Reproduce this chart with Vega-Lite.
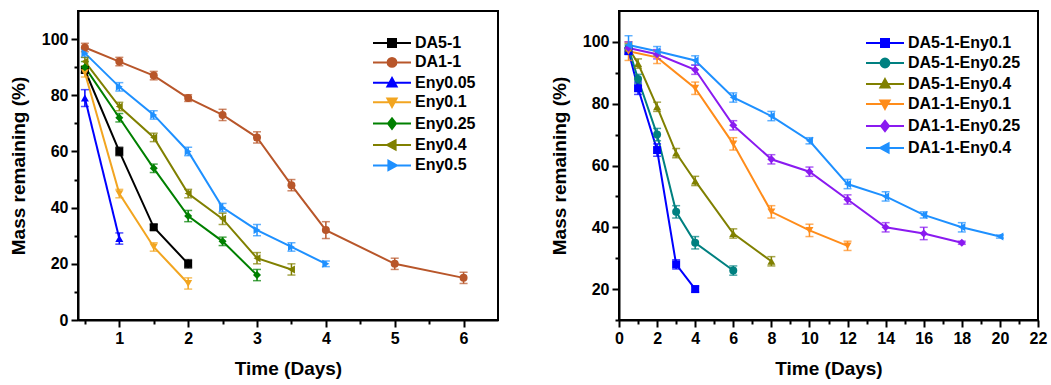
{
  "$schema": "https://vega.github.io/schema/vega-lite/v6.json",
  "padding": {"left": 8, "top": 10, "right": 5, "bottom": 5},
  "background": "white",
  "spacing": 50,
  "resolve": {"scale": {"color": "independent", "shape": "independent"}},
  "datasets": {
    "left": [
      {"s": "DA5-1", "x": 0.5, "y": 89, "e": 1},
      {"s": "DA5-1", "x": 1, "y": 60, "e": 1.5},
      {"s": "DA5-1", "x": 1.5, "y": 33, "e": 1},
      {"s": "DA5-1", "x": 2, "y": 20, "e": 1.5},
      {"s": "DA1-1", "x": 0.5, "y": 97, "e": 1.5},
      {"s": "DA1-1", "x": 1, "y": 92, "e": 1.5},
      {"s": "DA1-1", "x": 1.5, "y": 87, "e": 1.5},
      {"s": "DA1-1", "x": 2, "y": 79, "e": 1.2},
      {"s": "DA1-1", "x": 2.5, "y": 73, "e": 2},
      {"s": "DA1-1", "x": 3, "y": 65, "e": 2},
      {"s": "DA1-1", "x": 3.5, "y": 48, "e": 2},
      {"s": "DA1-1", "x": 4, "y": 32, "e": 3},
      {"s": "DA1-1", "x": 5, "y": 20, "e": 2},
      {"s": "DA1-1", "x": 6, "y": 15, "e": 2},
      {"s": "Eny0.05", "x": 0.5, "y": 79, "e": 3},
      {"s": "Eny0.05", "x": 1, "y": 29, "e": 2},
      {"s": "Eny0.1", "x": 0.5, "y": 88, "e": 1.5},
      {"s": "Eny0.1", "x": 1, "y": 45, "e": 1.5},
      {"s": "Eny0.1", "x": 1.5, "y": 26, "e": 1.5},
      {"s": "Eny0.1", "x": 2, "y": 13, "e": 2},
      {"s": "Eny0.25", "x": 0.5, "y": 90, "e": 2},
      {"s": "Eny0.25", "x": 1, "y": 72, "e": 1.5},
      {"s": "Eny0.25", "x": 1.5, "y": 54, "e": 1.5},
      {"s": "Eny0.25", "x": 2, "y": 37, "e": 2},
      {"s": "Eny0.25", "x": 2.5, "y": 28, "e": 1.5},
      {"s": "Eny0.25", "x": 3, "y": 16, "e": 2},
      {"s": "Eny0.4", "x": 0.5, "y": 92, "e": 1.5},
      {"s": "Eny0.4", "x": 1, "y": 76, "e": 1.5},
      {"s": "Eny0.4", "x": 1.5, "y": 65, "e": 1.5},
      {"s": "Eny0.4", "x": 2, "y": 45, "e": 1.5},
      {"s": "Eny0.4", "x": 2.5, "y": 36, "e": 2},
      {"s": "Eny0.4", "x": 3, "y": 22, "e": 2},
      {"s": "Eny0.4", "x": 3.5, "y": 18, "e": 2},
      {"s": "Eny0.5", "x": 0.5, "y": 95, "e": 1.5},
      {"s": "Eny0.5", "x": 1, "y": 83, "e": 1.5},
      {"s": "Eny0.5", "x": 1.5, "y": 73, "e": 1.5},
      {"s": "Eny0.5", "x": 2, "y": 60, "e": 1.5},
      {"s": "Eny0.5", "x": 2.5, "y": 40, "e": 1.5},
      {"s": "Eny0.5", "x": 3, "y": 32, "e": 2},
      {"s": "Eny0.5", "x": 3.5, "y": 26, "e": 1.5},
      {"s": "Eny0.5", "x": 4, "y": 20, "e": 1}
    ],
    "right": [
      {"s": "DA5-1-Eny0.1", "x": 0.5, "y": 97, "e": 1},
      {"s": "DA5-1-Eny0.1", "x": 1, "y": 85, "e": 2},
      {"s": "DA5-1-Eny0.1", "x": 2, "y": 65, "e": 2},
      {"s": "DA5-1-Eny0.1", "x": 3, "y": 28, "e": 1.5},
      {"s": "DA5-1-Eny0.1", "x": 4, "y": 20, "e": 1},
      {"s": "DA5-1-Eny0.25", "x": 0.5, "y": 98, "e": 1},
      {"s": "DA5-1-Eny0.25", "x": 1, "y": 88, "e": 1.5},
      {"s": "DA5-1-Eny0.25", "x": 2, "y": 70, "e": 2},
      {"s": "DA5-1-Eny0.25", "x": 3, "y": 45, "e": 2},
      {"s": "DA5-1-Eny0.25", "x": 4, "y": 35, "e": 2},
      {"s": "DA5-1-Eny0.25", "x": 6, "y": 26, "e": 1.5},
      {"s": "DA5-1-Eny0.4", "x": 0.5, "y": 98, "e": 1.5},
      {"s": "DA5-1-Eny0.4", "x": 1, "y": 93, "e": 1.5},
      {"s": "DA5-1-Eny0.4", "x": 2, "y": 79, "e": 1.5},
      {"s": "DA5-1-Eny0.4", "x": 3, "y": 64, "e": 1.5},
      {"s": "DA5-1-Eny0.4", "x": 4, "y": 55, "e": 1.5},
      {"s": "DA5-1-Eny0.4", "x": 6, "y": 38, "e": 1.5},
      {"s": "DA5-1-Eny0.4", "x": 8, "y": 29, "e": 1.5},
      {"s": "DA1-1-Eny0.1", "x": 0.5, "y": 97, "e": 3},
      {"s": "DA1-1-Eny0.1", "x": 2, "y": 95, "e": 2},
      {"s": "DA1-1-Eny0.1", "x": 4, "y": 85, "e": 2},
      {"s": "DA1-1-Eny0.1", "x": 6, "y": 67, "e": 2},
      {"s": "DA1-1-Eny0.1", "x": 8, "y": 45, "e": 2},
      {"s": "DA1-1-Eny0.1", "x": 10, "y": 39, "e": 2},
      {"s": "DA1-1-Eny0.1", "x": 12, "y": 34, "e": 1.5},
      {"s": "DA1-1-Eny0.25", "x": 0.5, "y": 98, "e": 2},
      {"s": "DA1-1-Eny0.25", "x": 2, "y": 96, "e": 1.5},
      {"s": "DA1-1-Eny0.25", "x": 4, "y": 91, "e": 1.5},
      {"s": "DA1-1-Eny0.25", "x": 6, "y": 73, "e": 1.5},
      {"s": "DA1-1-Eny0.25", "x": 8, "y": 62, "e": 1.5},
      {"s": "DA1-1-Eny0.25", "x": 10, "y": 58, "e": 1.5},
      {"s": "DA1-1-Eny0.25", "x": 12, "y": 49, "e": 1.5},
      {"s": "DA1-1-Eny0.25", "x": 14, "y": 40, "e": 1.5},
      {"s": "DA1-1-Eny0.25", "x": 16, "y": 38, "e": 2},
      {"s": "DA1-1-Eny0.25", "x": 18, "y": 35, "e": 0.5},
      {"s": "DA1-1-Eny0.4", "x": 0.5, "y": 99, "e": 3},
      {"s": "DA1-1-Eny0.4", "x": 2, "y": 97, "e": 1.5},
      {"s": "DA1-1-Eny0.4", "x": 4, "y": 94, "e": 1.5},
      {"s": "DA1-1-Eny0.4", "x": 6, "y": 82, "e": 1.5},
      {"s": "DA1-1-Eny0.4", "x": 8, "y": 76, "e": 1.5},
      {"s": "DA1-1-Eny0.4", "x": 10, "y": 68, "e": 1},
      {"s": "DA1-1-Eny0.4", "x": 12, "y": 54, "e": 1.5},
      {"s": "DA1-1-Eny0.4", "x": 14, "y": 50, "e": 1.5},
      {"s": "DA1-1-Eny0.4", "x": 16, "y": 44, "e": 1},
      {"s": "DA1-1-Eny0.4", "x": 18, "y": 40, "e": 1.5},
      {"s": "DA1-1-Eny0.4", "x": 20, "y": 37, "e": 0.5}
    ]
  },
  "hconcat": [
    {
      "width": 420,
      "height": 309,
      "data": {"name": "left"},
      "encoding": {
        "x": {"field": "x", "type": "quantitative", "scale": {"domain": [0.4, 6.5], "nice": false, "zero": false},
          "axis": {"values": [0.5, 1, 1.5, 2, 2.5, 3, 3.5, 4, 4.5, 5, 5.5, 6], "labelExpr": "datum.value % 1 === 0 ? '' + datum.value : ''",
            "tickSize": {"condition": {"test": "datum.value % 1 !== 0", "value": 4}, "value": 7},
            "title": "Time (Days)", "labelFlush": false, "labelOverlap": false}},
        "y": {"field": "y", "type": "quantitative", "scale": {"domain": [0, 110], "nice": false, "zero": false},
          "axis": {"values": [0, 10, 20, 30, 40, 50, 60, 70, 80, 90, 100], "labelExpr": "datum.value % 20 === 0 ? datum.label : ''",
            "tickSize": {"condition": {"test": "datum.value % 20 !== 0", "value": 4}, "value": 7},
            "title": "Mass remaining (%)", "labelFlush": false, "labelOverlap": false}},
        "color": {"field": "s", "type": "nominal",
          "scale": {"domain": ["DA5-1", "DA1-1", "Eny0.05", "Eny0.1", "Eny0.25", "Eny0.4", "Eny0.5"],
            "range": ["#000000", "#B8562A", "#0000FF", "#F2A520", "#008000", "#808000", "#1E90FF"]},
          "legend": {"orient": "none", "legendX": 294, "legendY": 23, "title": null, "symbolSize": 256, "labelOffset": 25, "rowPadding": 2.4,
            "labelFont": "Liberation Sans", "labelFontWeight": "bold", "labelFontSize": 16, "labelColor": "black",
            "encode": {"symbols": {"update": {
              "strokeWidth": {"value": 2},
              "opacity": {"value": 1},
              "shape": {"signal": "datum.value === 'DA5-1' ? 'M-1,0H3.75M0.875,-0.5H1.875V0.5H0.875Z' : datum.value === 'DA1-1' ? 'M-1,0H3.75M0.825,0A0.55,0.55,0,1,0,1.925,0A0.55,0.55,0,1,0,0.825,0Z' : datum.value === 'Eny0.05' ? 'M-1,0H3.75M1.375,-0.6L1.95,0.45H0.8Z' : datum.value === 'Eny0.1' ? 'M-1,0H3.75M1.375,0.6L1.95,-0.45H0.8Z' : datum.value === 'Eny0.25' ? 'M-1,0H3.75M1.375,-0.65L1.875,0L1.375,0.65L0.875,0Z' : datum.value === 'Eny0.4' ? 'M-1,0H3.75M0.775,0L1.825,-0.575V0.575Z' : 'M-1,0H3.75M1.975,0L0.925,-0.575V0.575Z'"},
              "stroke": {"signal": "datum.value === 'DA5-1' ? '#000000' : datum.value === 'DA1-1' ? '#B8562A' : datum.value === 'Eny0.05' ? '#0000FF' : datum.value === 'Eny0.1' ? '#F2A520' : datum.value === 'Eny0.25' ? '#008000' : datum.value === 'Eny0.4' ? '#808000' : '#1E90FF'"},
              "fill": {"signal": "datum.value === 'DA5-1' ? '#000000' : datum.value === 'DA1-1' ? '#B8562A' : datum.value === 'Eny0.05' ? '#0000FF' : datum.value === 'Eny0.1' ? '#F2A520' : datum.value === 'Eny0.25' ? '#008000' : datum.value === 'Eny0.4' ? '#808000' : '#1E90FF'"}
            }}}}}
      },
      "layer": [
        {"mark": {"type": "line", "strokeWidth": 2}},
        {"mark": {"type": "errorbar", "ticks": {"size": 8, "thickness": 1.5}, "rule": {"strokeWidth": 1.5}},
          "encoding": {"yError": {"field": "e"}}},
        {"mark": {"type": "point", "filled": true, "size": 64, "opacity": 1},
          "encoding": {"shape": {"field": "s", "type": "nominal", "legend": null,
            "scale": {"domain": ["Eny0.5", "DA5-1", "DA1-1", "Eny0.05", "Eny0.1", "Eny0.25", "Eny0.4"],
              "range": ["triangle-right", "square", "circle", "triangle-up", "triangle-down", "diamond", "triangle-left"]}}}}
      ]
    },
    {
      "width": 419,
      "height": 309,
      "data": {"name": "right"},
      "encoding": {
        "x": {"field": "x", "type": "quantitative", "scale": {"domain": [0, 22], "nice": false, "zero": false},
          "axis": {"values": [0, 1, 2, 3, 4, 5, 6, 7, 8, 9, 10, 11, 12, 13, 14, 15, 16, 17, 18, 19, 20, 21, 22], "labelExpr": "datum.value % 2 === 0 ? '' + datum.value : ''",
            "tickSize": {"condition": {"test": "datum.value % 2 !== 0", "value": 4}, "value": 7},
            "title": "Time (Days)", "labelFlush": false, "labelOverlap": false}},
        "y": {"field": "y", "type": "quantitative", "scale": {"domain": [10, 110], "nice": false, "zero": false},
          "axis": {"values": [10, 20, 30, 40, 50, 60, 70, 80, 90, 100], "labelExpr": "datum.value % 20 === 0 ? datum.label : ''",
            "tickSize": {"condition": {"test": "datum.value % 20 !== 0", "value": 4}, "value": 7},
            "title": "Mass remaining (%)", "labelFlush": false, "labelOverlap": false}},
        "color": {"field": "s", "type": "nominal",
          "scale": {"domain": ["DA5-1-Eny0.1", "DA5-1-Eny0.25", "DA5-1-Eny0.4", "DA1-1-Eny0.1", "DA1-1-Eny0.25", "DA1-1-Eny0.4"],
            "range": ["#0000FF", "#008080", "#808000", "#FF8C1A", "#8A1AF0", "#1E90FF"]},
          "legend": {"orient": "none", "legendX": 246, "legendY": 23, "title": null, "symbolSize": 256, "labelOffset": 25, "rowPadding": 3,
            "labelFont": "Liberation Sans", "labelFontWeight": "bold", "labelFontSize": 16, "labelColor": "black",
            "encode": {"symbols": {"update": {
              "strokeWidth": {"value": 2},
              "opacity": {"value": 1},
              "shape": {"signal": "datum.value === 'DA5-1-Eny0.1' ? 'M-1,0H3.75M0.875,-0.5H1.875V0.5H0.875Z' : datum.value === 'DA5-1-Eny0.25' ? 'M-1,0H3.75M0.825,0A0.55,0.55,0,1,0,1.925,0A0.55,0.55,0,1,0,0.825,0Z' : datum.value === 'DA5-1-Eny0.4' ? 'M-1,0H3.75M1.375,-0.6L1.95,0.45H0.8Z' : datum.value === 'DA1-1-Eny0.1' ? 'M-1,0H3.75M1.375,0.6L1.95,-0.45H0.8Z' : datum.value === 'DA1-1-Eny0.25' ? 'M-1,0H3.75M1.375,-0.65L1.875,0L1.375,0.65L0.875,0Z' : 'M-1,0H3.75M0.775,0L1.825,-0.575V0.575Z'"},
              "stroke": {"signal": "datum.value === 'DA5-1-Eny0.1' ? '#0000FF' : datum.value === 'DA5-1-Eny0.25' ? '#008080' : datum.value === 'DA5-1-Eny0.4' ? '#808000' : datum.value === 'DA1-1-Eny0.1' ? '#FF8C1A' : datum.value === 'DA1-1-Eny0.25' ? '#8A1AF0' : '#1E90FF'"},
              "fill": {"signal": "datum.value === 'DA5-1-Eny0.1' ? '#0000FF' : datum.value === 'DA5-1-Eny0.25' ? '#008080' : datum.value === 'DA5-1-Eny0.4' ? '#808000' : datum.value === 'DA1-1-Eny0.1' ? '#FF8C1A' : datum.value === 'DA1-1-Eny0.25' ? '#8A1AF0' : '#1E90FF'"}
            }}}}}
      },
      "layer": [
        {"mark": {"type": "line", "strokeWidth": 2}},
        {"mark": {"type": "errorbar", "ticks": {"size": 8, "thickness": 1.5}, "rule": {"strokeWidth": 1.5}},
          "encoding": {"yError": {"field": "e"}}},
        {"mark": {"type": "point", "filled": true, "size": 64, "opacity": 1},
          "encoding": {"shape": {"field": "s", "type": "nominal", "legend": null,
            "scale": {"domain": ["DA1-1-Eny0.4", "DA5-1-Eny0.1", "DA5-1-Eny0.25", "DA5-1-Eny0.4", "DA1-1-Eny0.1", "DA1-1-Eny0.25"],
              "range": ["triangle-left", "square", "circle", "triangle-up", "triangle-down", "diamond"]}}}}
      ]
    }
  ],
  "config": {
    "view": {"stroke": "black", "strokeWidth": 2},
    "axis": {"domainColor": "black", "domainWidth": 2, "tickColor": "black", "tickWidth": 2, "grid": false,
      "labelFont": "Liberation Sans", "labelFontWeight": "bold", "labelFontSize": 16, "labelColor": "black", "labelPadding": 3,
      "titleFont": "Liberation Sans", "titleFontWeight": "bold", "titleFontSize": 19, "titleColor": "black"},
    "axisX": {"titlePadding": 13},
    "axisY": {"titlePadding": 13}
  }
}
